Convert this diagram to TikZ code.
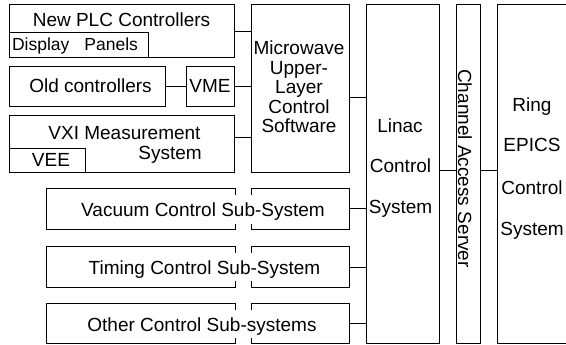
\documentclass[tikz,border=0pt]{standalone}
\usepackage{fontspec}
\setmainfont{Liberation Sans}
\begin{document}
\begin{tikzpicture}[x=1pt,y=-1pt, line width=1pt,
  box/.style={draw, anchor=north west, inner sep=0pt},
  lbl/.style={anchor=base, inner sep=0pt, font=\fontsize{19}{19.5}\selectfont},
  sub/.style={lbl, fill=white, inner xsep=2pt, inner ysep=5pt, text height=16pt, text depth=2pt}]
\clip (0,0) rectangle (566,345);
% boxes, upper left
\node[box, minimum width=225pt, minimum height=53pt] (plc) at (9,4) {};
\node[box, minimum width=139pt, minimum height=25pt] (disp) at (9,32) {};
\node[box, minimum width=156pt, minimum height=40pt] (old) at (9,66) {};
\node[box, minimum width=48pt, minimum height=40pt] (vme) at (186,66) {};
\node[box, minimum width=225pt, minimum height=57pt] (vxi) at (9,115) {};
\node[box, minimum width=76pt, minimum height=24pt] (vee) at (9,148) {};
% tall boxes
\node[box, minimum width=98pt, minimum height=168pt] (mw) at (251,4) {};
\node[box, minimum width=73pt, minimum height=339pt] (linac) at (366,4) {};
\node[box, minimum width=24pt, minimum height=339pt] (cas) at (456,4) {};
\node[box, minimum width=80pt, minimum height=339pt] (ring) at (497,4) {};
% subsystem boxes
\node[box, minimum width=189pt, minimum height=41pt] (vacl) at (46,188) {};
\node[box, minimum width=98pt, minimum height=41pt] (vacr) at (251,188) {};
\node[box, minimum width=189pt, minimum height=41pt] (timl) at (46,246) {};
\node[box, minimum width=98pt, minimum height=41pt] (timr) at (251,246) {};
\node[box, minimum width=189pt, minimum height=40pt] (othl) at (46,303) {};
\node[box, minimum width=98pt, minimum height=40pt] (othr) at (251,303) {};
% texts
\node[lbl] (plct) at (121.5,27) {New PLC Controllers};
\node[lbl, font=\fontsize{17.5}{18}\selectfont] (dispt) at (75,51) {Display\hspace{15pt}Panels};
\node[lbl] (oldt) at (90.5,93) {Old controllers};
\node[lbl] (vmet) at (210,93) {VME};
\node[lbl] (vxit) at (124.5,140) {VXI Measurement};
\node[lbl] (vxis) at (170,160) {System};
\node[lbl] (veet) at (51,167) {VEE};
\node[lbl, align=center, anchor=center] (mwt) at (299,87) {Microwave\\Upper-\\Layer\\Control\\Software};
\node[lbl] (lin1) at (400,132) {Linac};
\node[lbl] (lin2) at (400.5,172.7) {Control};
\node[lbl] (lin3) at (400.5,214) {System};
\node[lbl] (rng1) at (532,112) {Ring};
\node[lbl] (rng2) at (532,152) {EPICS};
\node[lbl] (rng3) at (532,195) {Control};
\node[lbl] (rng4) at (532,235) {System};
\node[lbl, rotate=-90] (cast) at (458,168.5) {Channel Access Server};
\node[sub] (vact) at (203,216.5) {Vacuum Control Sub-System};
\node[sub] (timt) at (204.5,274) {Timing Control Sub-System};
\node[sub] (otht) at (202,331) {Other Control Sub-systems};
% connectors
\draw (plc.east |- 0,32) -- (mw.west |- 0,32);
\draw (old.east) -- (vme.west);
\draw (vme.east) -- (mw.west |- vme.east);
\draw (vxi.east |- 0,138) -- (mw.west |- 0,138);
\draw (mw.east |- 0,98) -- (linac.west |- 0,98);
\draw (vacr.east) -- (linac.west |- vacr.east);
\draw (timr.east) -- (linac.west |- timr.east);
\draw (othr.east) -- (linac.west |- othr.east);
\draw (linac.east |- 0,171) -- (cas.west |- 0,171);
\draw (cas.east |- 0,171) -- (ring.west |- 0,171);
\end{tikzpicture}
\end{document}
